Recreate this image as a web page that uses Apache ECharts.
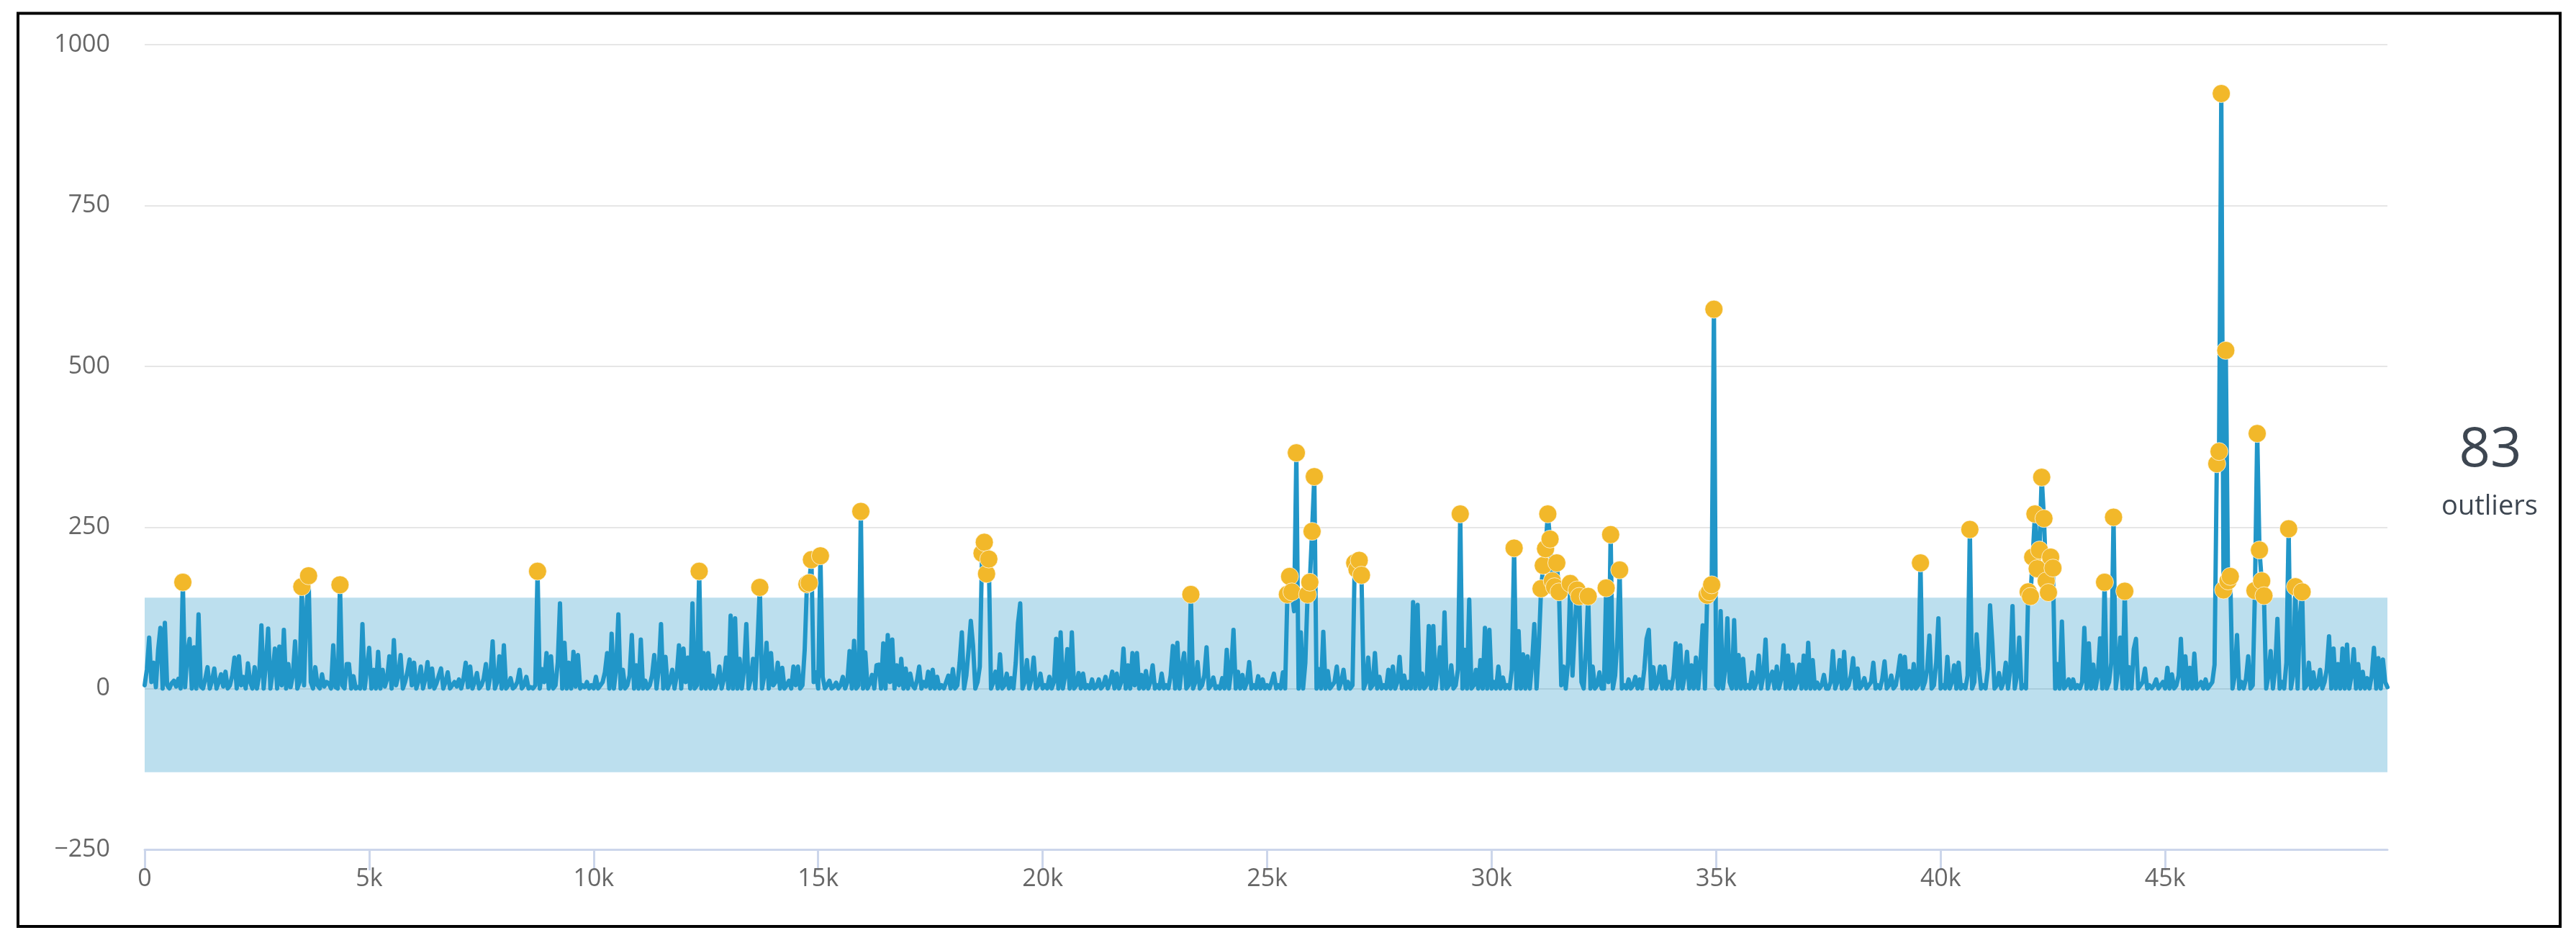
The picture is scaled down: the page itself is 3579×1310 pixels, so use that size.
<!DOCTYPE html>
<html>
<head>
<meta charset="utf-8">
<script src="https://cdn.jsdelivr.net/npm/echarts@6/dist/echarts.min.js"></script>
<style>
html,body{margin:0;padding:0;background:#ffffff;}
#chart{width:3579px;height:1310px;}
</style>
</head>
<body>
<div id="chart"></div>
<script>
// sampling interval of the series along the x axis
const X_STEP = 50;

// series values (one value every 50 units)
const values00k = [
  5,30,79,10,40,2,60,94,0,102, 5,0,8,12,3,15,0,165,2,55, 77,0,64,0,115,3,0,15,33,0, 12,31,0,10,22,3,26,0,5,20, 48,0,50,5,18,0,39,10,0,33,
  0,20,98,0,38,93,0,25,62,0, 65,5,91,0,38,2,20,73,0,10, 158,5,118,175,10,0,33,5,0,22, 3,10,8,0,67,2,0,161,5,0, 38,38,0,19,0,2,0,100,0,30
];
const values05k = [
  63,0,29,0,57,0,29,3,15,50, 0,75,5,20,52,0,10,25,45,5, 40,0,12,34,0,15,41,2,31,0, 8,20,31,0,10,25,0,5,10,3, 14,0,15,40,2,34,0,10,24,0,
  5,15,38,0,20,73,0,10,50,0, 67,0,5,16,0,3,10,29,0,5, 18,0,2,0,5,182,0,30,10,55, 0,50,0,5,40,132,0,71,0,40, 0,57,3,52,0,5,2,10,0,5
];
const values10k = [
  0,18,0,5,10,25,55,0,85,0, 30,115,0,29,0,5,20,83,0,36, 0,76,0,12,0,5,20,52,0,30, 100,0,49,0,10,29,0,20,67,0, 62,10,48,0,132,0,5,182,0,55,
  0,55,0,20,0,10,34,0,15,48, 0,113,0,109,0,46,0,30,100,0, 15,46,0,72,157,0,20,71,0,55, 5,10,40,0,32,0,5,12,0,34, 5,34,0,5,60,162,164,200,10,25
];
const values15k = [
  0,206,18,0,5,12,0,3,9,0, 5,18,0,10,58,0,74,0,5,275, 0,56,0,8,21,0,36,37,0,70, 0,83,10,76,0,36,5,46,0,31, 0,23,5,0,12,34,0,10,3,26,
  0,29,0,18,0,5,0,10,20,0, 30,0,5,40,87,0,20,60,105,66, 0,10,34,210,227,178,201,0,10,26, 0,53,0,5,23,0,16,0,40,101, 132,0,10,44,0,15,48,0,5,23
];
const values20k = [
  0,5,0,18,0,10,77,0,87,0, 20,61,0,87,0,5,24,0,23,0, 5,0,14,0,3,14,0,5,18,0, 10,26,0,23,0,10,62,0,36,0, 55,5,55,0,21,0,27,0,10,36,
  0,5,0,23,0,5,0,20,66,0, 71,0,34,55,0,5,146,0,10,41, 0,5,20,64,0,5,17,0,3,0, 16,0,60,0,30,91,0,26,0,21, 0,10,41,0,5,0,19,0,14,0
];
const values25k = [
  5,0,10,23,0,5,0,25,0,146, 174,150,120,366,0,87,0,40,146,165, 244,329,0,30,0,88,0,27,0,5, 10,34,0,10,29,0,10,0,5,195, 185,199,176,0,10,48,0,5,55,0,
  18,0,5,0,29,0,34,0,10,49, 0,20,0,10,0,134,0,130,0,23, 0,5,97,0,97,0,30,64,0,118, 0,5,36,0,5,30,271,0,60,0, 138,0,5,29,0,44,0,94,0,91
];
const values30k = [
  0,10,0,34,0,17,0,5,0,30, 218,0,89,0,53,0,50,0,40,100, 0,64,155,191,217,271,232,167,158,195, 150,5,34,0,40,163,20,90,153,143, 10,0,60,143,0,34,0,5,25,0,
  0,156,10,239,0,20,79,184,0,5, 0,14,0,5,18,0,14,0,30,77, 91,0,33,0,10,34,0,34,0,10, 0,20,70,0,67,0,20,57,0,36, 0,48,0,40,98,0,145,150,161,589
];
const values35k = [
  5,0,120,0,30,109,10,0,106,0, 52,0,46,0,5,0,25,0,10,51, 0,20,76,0,16,26,0,34,0,15, 67,0,51,0,37,0,10,37,0,51, 0,71,0,44,0,9,0,5,21,0,
  0,10,58,0,10,44,0,57,0,5, 20,47,0,31,0,5,16,0,5,10, 40,0,5,0,15,42,0,5,20,0, 5,25,51,0,49,0,27,0,38,0, 5,195,0,10,30,82,0,5,40,109
];
const values40k = [
  0,5,0,49,0,10,36,0,40,0, 5,0,20,247,0,10,84,34,0,5, 0,30,129,71,0,5,24,0,10,40, 0,30,128,0,20,79,0,5,0,150, 143,204,271,186,215,328,264,167,149,204,
  187,0,38,0,104,0,5,14,0,14, 0,5,0,10,94,0,70,0,37,0, 20,78,0,165,0,10,40,266,0,30, 79,0,151,0,33,0,61,77,0,5, 10,31,0,5,0,5,14,0,5,10
];
const values45k = [
  0,32,0,22,0,5,20,77,0,50, 0,32,0,54,0,5,10,0,14,0, 5,10,37,349,368,924,153,525,167,174, 0,20,83,0,10,0,15,50,0,5, 152,396,215,167,144,0,20,58,0,30,
  108,0,10,0,40,248,0,20,158,0, 111,150,0,5,40,0,25,0,5,29, 0,10,30,81,0,62,0,38,0,62, 0,68,0,20,61,0,38,0,26,0, 16,0,20,63,0,47,0,45,10,2
];

// expected band
const bandLow = -130;
const bandHigh = 141;

// tick labels
const xTickValues = [0, 5000, 10000, 15000, 20000, 25000, 30000, 35000, 40000, 45000];
const xTickLabels = ['0', '5k', '10k', '15k', '20k', '25k', '30k', '35k', '40k', '45k'];
const yTickValues = [-250, 0, 250, 500, 750, 1000];
const yTickLabels = ['\u2212250', '0', '250', '500', '750', '1000'];

// side summary
const outlierCountText = '83';
const outlierCaption = 'outliers';

const allValues = [].concat(values00k, values05k, values10k, values15k, values20k,
  values25k, values30k, values35k, values40k, values45k);
const lineData = allValues.map(function (v, i) { return [i * X_STEP, v]; });
const outlierData = lineData.filter(function (p) { return p[1] > bandHigh; });

const chart = echarts.init(document.getElementById('chart'), null, {renderer: 'canvas'});
const labelFont = 'Open Sans';

chart.setOption({
  animation: false,
  backgroundColor: '#ffffff',
  grid: {left: 201, right: 262, top: 62, bottom: 130},
  xAxis: {
    type: 'value',
    min: 0,
    max: (allValues.length - 1) * X_STEP,
    interval: 5000,
    axisLine: {show: true, onZero: false, lineStyle: {color: '#ccd6eb', width: 3}},
    axisTick: {show: true, length: 29, customValues: xTickValues, lineStyle: {color: '#ccd6eb', width: 3}},
    axisLabel: {
      customValues: xTickValues,
      color: '#666666', fontSize: 34, fontFamily: labelFont, margin: 24,
      formatter: function (v) { const k = xTickValues.indexOf(v); return k >= 0 ? xTickLabels[k] : ''; }
    },
    splitLine: {show: false}
  },
  yAxis: {
    type: 'value',
    min: -250,
    max: 1000,
    interval: 250,
    axisLine: {show: false},
    axisTick: {show: false},
    axisLabel: {
      color: '#666666', fontSize: 34, fontFamily: labelFont, margin: 48,
      formatter: function (v) { const k = yTickValues.indexOf(v); return k >= 0 ? yTickLabels[k] : ''; }
    },
    splitLine: {show: true, lineStyle: {color: '#e6e6e6', width: 2}}
  },
  series: [
    {
      type: 'line',
      data: lineData,
      symbol: 'none',
      showSymbol: false,
      silent: true,
      z: 2,
      lineStyle: {color: '#2196c8', width: 6, cap: 'round', join: 'round'}
    },
    {
      type: 'scatter',
      data: outlierData,
      symbol: 'circle',
      symbolSize: 25,
      silent: true,
      z: 3,
      itemStyle: {color: '#f2b82a', borderColor: 'rgba(255,255,255,0.7)', borderWidth: 1, opacity: 1}
    },
    {
      type: 'line',
      data: [],
      silent: true,
      z: 4,
      markArea: {
        silent: true,
        itemStyle: {color: 'rgba(33,150,200,0.3)'},
        data: [[{yAxis: bandLow}, {yAxis: bandHigh}]]
      }
    }
  ],
  graphic: [
    {
      type: 'rect',
      shape: {x: 25, y: 18.5, width: 3532, height: 1268.5},
      style: {fill: 'none', stroke: '#000000', lineWidth: 4},
      z: 100
    },
    {
      type: 'text',
      x: 3460, y: 626,
      style: {text: outlierCountText, fill: '#3d4651', fontSize: 76, fontFamily: labelFont, align: 'center', verticalAlign: 'middle'},
      z: 100
    },
    {
      type: 'text',
      x: 3459, y: 704,
      style: {text: outlierCaption, fill: '#3d4651', fontSize: 38, fontFamily: labelFont, align: 'center', verticalAlign: 'middle'},
      z: 100
    }
  ]
});
</script>
</body>
</html>
